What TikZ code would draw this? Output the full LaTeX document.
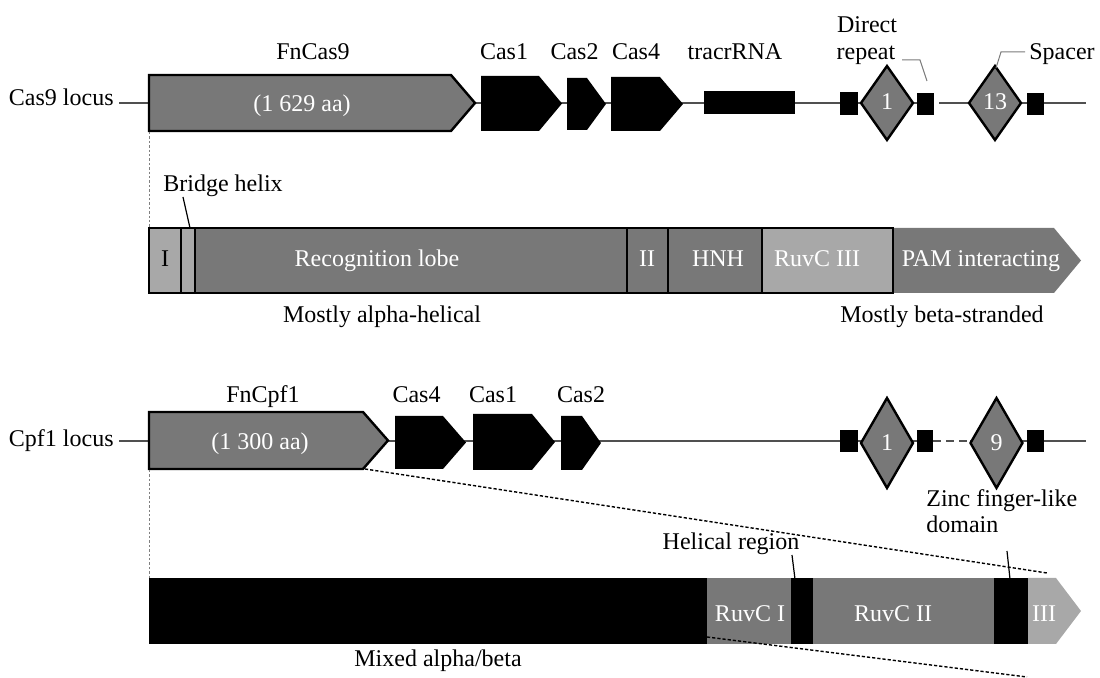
\documentclass[tikz,border=0pt]{standalone}
\usepackage{fontspec}
\setmainfont{Liberation Serif}
\definecolor{dgray}{HTML}{787878}
\definecolor{lgray}{HTML}{A8A8A8}
\definecolor{lineg}{HTML}{505050}
\definecolor{leadg}{HTML}{7A7A7A}
\newcommand\genearrow[6]{%
  \path[#1] (#2,#5) -- (#3,#5) -- (#4,{(#5+#6)/2}) -- (#3,#6) -- (#2,#6) -- cycle;}
\begin{document}
\begin{tikzpicture}[x=0.5pt,y=-0.5pt,
  txt/.style={font=\fontsize{12}{13.5}\selectfont, inner sep=0pt, anchor=base},
  wtxt/.style={txt, text=white},
  locus/.style={draw=lineg, line width=0.8pt},
  gene/.style={fill=black},
  cas/.style={fill=dgray, draw=black, line width=1.2pt, line join=miter},
  spacer/.style={fill=dgray, draw=black, line width=1.2pt, line join=miter},
  dombox/.style={draw=black, line width=1.2pt},
  lead/.style={draw=leadg, line width=0.5pt},
  blead/.style={draw=black, line width=0.6pt},
  proj/.style={draw=black, line width=0.7pt, dash pattern=on 1.6pt off 1pt},
  vdot/.style={draw=gray, line width=0.4pt, dash pattern=on 1.2pt off 1pt}]
\useasboundingbox (0,0) rectangle (1100,678);

% ---------------- Cas9 locus ----------------
\coordinate (c9a) at (119,103);
\coordinate (c9b) at (934,103);
\coordinate (c9c) at (939,103);
\coordinate (c9d) at (1086,103);
\draw[locus] (c9a) -- (c9b);
\draw[locus] (c9c) -- (c9d);

\genearrow{cas}{149}{451}{475}{75}{131}
\genearrow{gene}{481}{539}{562}{76}{131}
\genearrow{gene}{567}{587}{606}{78}{130}
\genearrow{gene}{611}{660}{683}{77}{131}
\fill (704,91) rectangle (795,114);
\fill (840,92) rectangle (858,115);
\fill (917,93) rectangle (934,115);
\fill (1027,93) rectangle (1044,115);
\path[spacer] (861,103) -- (887,66) -- (913,103) -- (887,140) -- cycle;
\path[spacer] (969,103) -- (995,66) -- (1021,103) -- (995,140) -- cycle;

\node[txt, anchor=base east] (c9lab) at (114,106) {Cas9 locus};
\node[txt] (fncas9) at (313,60) {FnCas9};
\node[wtxt] (aa9) at (302,112) {(1 629 aa)};
\node[txt] (cas1a) at (504,60) {Cas1};
\node[txt] (cas2a) at (574.5,60) {Cas2};
\node[txt] (cas4a) at (636,60) {Cas4};
\node[txt] (tracr) at (735,60) {tracrRNA};
\node[txt] (direct) at (867,33) {Direct};
\node[txt] (repeat) at (866,60) {repeat};
\node[txt, anchor=base west] (spacerlab) at (1029,60) {Spacer};
\node[wtxt] (sp1) at (887,110) {1};
\node[wtxt] (sp13) at (995,110) {13};

\coordinate (drl1) at (902,60);
\coordinate (drl2) at (920,60);
\coordinate (drl3) at (927,81);
\draw[lead] (drl1) -- (drl2) -- (drl3);
\coordinate (spl1) at (1025,52);
\coordinate (spl2) at (1001,52);
\coordinate (spl3) at (996,68);
\draw[lead] (spl1) -- (spl2) -- (spl3);

% ---------------- Cas9 domains ----------------
\coordinate (v9a) at (149,132);
\coordinate (v9b) at (149,228);
\draw[vdot] (v9a) -- (v9b);

\genearrow{fill=dgray}{893}{1054}{1081}{228}{293}
\path[dombox, fill=lgray] (149,228) rectangle (181,293);
\path[dombox, fill=lgray] (181,228) rectangle (195,293);
\path[dombox, fill=dgray] (195,228) rectangle (627,293);
\path[dombox, fill=dgray] (627,228) rectangle (668,293);
\path[dombox, fill=dgray] (668,228) rectangle (762,293);
\path[dombox, fill=lgray] (762,228) rectangle (893,293);

\node[txt] (bridge) at (223,192) {Bridge helix};
\coordinate (brl1) at (183,197);
\coordinate (brl2) at (190,228);
\draw[blead] (brl1) -- (brl2);
\node[txt] (dI) at (165,267) {I};
\node[wtxt] (reclobe) at (377,267) {Recognition lobe};
\node[wtxt] (dII) at (647,267) {II};
\node[wtxt] (hnh) at (718,267) {HNH};
\node[wtxt] (ruvc3) at (817,267) {RuvC III};
\node[wtxt] (pam) at (981,267) {PAM interacting};
\node[txt] (alpha) at (382,323) {Mostly alpha-helical};
\node[txt] (beta) at (942,323) {Mostly beta-stranded};

% ---------------- Cpf1 locus ----------------
\coordinate (cpa) at (119,441);
\coordinate (cpb) at (933,441);
\coordinate (cpc) at (970,441);
\coordinate (cpd) at (1086,441);
\draw[locus] (cpa) -- (cpb);
\draw[locus, dash pattern=on 4pt off 2.5pt] (cpb) -- (cpc);
\draw[locus] (cpc) -- (cpd);

\genearrow{cas}{149}{363}{388}{412}{469}
\genearrow{gene}{395}{443}{466}{416}{469}
\genearrow{gene}{473}{532}{555}{414}{470}
\genearrow{gene}{561}{582}{601}{416}{470}
\fill (840,430) rectangle (858,452);
\fill (917,430) rectangle (933,452);
\fill (1027,430) rectangle (1044,452);
\path[spacer] (861,443) -- (887,398) -- (913,443) -- (887,488) -- cycle;
\path[spacer] (970.5,443) -- (996.5,398) -- (1022.5,443) -- (996.5,488) -- cycle;

\node[txt, anchor=base east] (cplab) at (114,447) {Cpf1 locus};
\node[txt] (fncpf1) at (263,403) {FnCpf1};
\node[wtxt] (aa1) at (260,450) {(1 300 aa)};
\node[txt] (cas4b) at (416.5,403) {Cas4};
\node[txt] (cas1b) at (493,403) {Cas1};
\node[txt] (cas2b) at (581,403) {Cas2};
\node[wtxt] (sq1) at (887,451) {1};
\node[wtxt] (sq9) at (996.5,451) {9};

% ---------------- Cpf1 domains ----------------
\coordinate (v1a) at (149,470);
\coordinate (v1b) at (149,578);
\draw[vdot] (v1a) -- (v1b);

\fill (149,578) rectangle (707,644);
\fill[dgray] (707,578) rectangle (791,644);
\fill (791,578) rectangle (813,644);
\fill[dgray] (813,578) rectangle (994,644);
\fill (994,578) rectangle (1028,644);
\genearrow{fill=lgray}{1028}{1056}{1081}{578}{644}

\coordinate (pj1) at (365,469);
\coordinate (pj2) at (1047,573);
\coordinate (pj3) at (707,637);
\coordinate (pj4) at (1027,677);
\draw[proj] (pj1) -- (pj2);
\draw[proj] (pj3) -- (pj4);

\node[txt, anchor=base west] (zinc) at (926,507) {Zinc finger-like};
\node[txt, anchor=base west] (domain) at (926,533) {domain};
\coordinate (znl1) at (1007,551);
\coordinate (znl2) at (1010,579);
\draw[blead] (znl1) -- (znl2);
\node[txt] (helical) at (731,550) {Helical region};
\coordinate (hel1) at (792,555);
\coordinate (hel2) at (795,579);
\draw[blead] (hel1) -- (hel2);
\node[wtxt] (ruvc1) at (750,622) {RuvC I};
\node[wtxt] (ruvc2) at (893,622) {RuvC II};
\node[wtxt] (dIII) at (1044,622) {III};
\node[txt] (mixed) at (438,667) {Mixed alpha/beta};
\end{tikzpicture}
\end{document}
